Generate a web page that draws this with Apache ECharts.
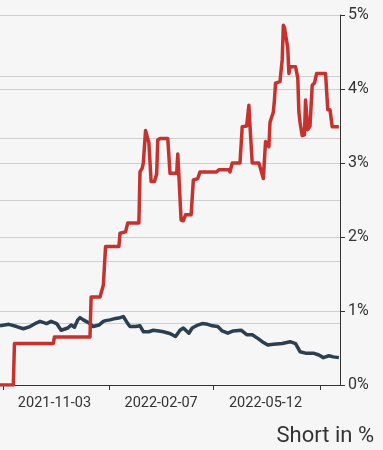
<!DOCTYPE html>
<html>
<head>
<meta charset="utf-8">
<script src="https://cdn.jsdelivr.net/npm/echarts@6/dist/echarts.min.js"></script>
<style>
html,body{margin:0;padding:0;background:#f6f6f6;}
#c{width:383px;height:450px;}
</style>
</head>
<body>
<div id="c"></div>
<script>
// ---- data ----
var redDates = ['2021-09-15','2021-09-27','2021-09-28','2021-11-02','2021-11-03','2021-12-05','2021-12-06','2021-12-14','2021-12-17','2021-12-19','2021-12-31','2022-01-01','2022-01-06','2022-01-08','2022-01-18','2022-01-19','2022-01-21','2022-01-22','2022-01-24','2022-01-27','2022-01-29','2022-02-01','2022-02-03','2022-02-04','2022-02-06','2022-02-13','2022-02-15','2022-02-21','2022-02-22','2022-02-25','2022-02-27','2022-03-01','2022-03-06','2022-03-08','2022-03-12','2022-03-14','2022-03-29','2022-03-31','2022-04-09','2022-04-10','2022-04-12','2022-04-19','2022-04-21','2022-04-25','2022-04-27','2022-04-28','2022-04-30','2022-05-06','2022-05-07','2022-05-10','2022-05-12','2022-05-15','2022-05-16','2022-05-19','2022-05-20','2022-05-21','2022-05-25','2022-05-27','2022-05-28','2022-05-29','2022-06-01','2022-06-02','2022-06-03','2022-06-08','2022-06-10','2022-06-11','2022-06-12','2022-06-14','2022-06-16','2022-06-17','2022-06-19','2022-06-21','2022-06-23','2022-06-25','2022-06-27','2022-07-05','2022-07-07','2022-07-09','2022-07-11','2022-07-17'];
var redValues = [0,0,0.56,0.56,0.65,0.65,1.19,1.19,1.35,1.87,1.87,2.05,2.07,2.19,2.19,2.88,2.93,3.00,3.44,3.27,2.75,2.75,2.85,3.31,3.33,3.33,2.86,2.86,3.12,2.23,2.22,2.30,2.30,2.77,2.79,2.88,2.88,2.91,2.91,2.88,3.00,3.00,3.49,3.50,3.78,3.50,3.00,3.00,2.95,2.79,3.29,3.22,3.55,3.69,3.85,4.08,4.10,4.40,4.86,4.83,4.55,4.21,4.30,4.30,4.15,3.69,3.55,3.37,3.38,3.85,3.45,3.50,4.05,4.08,4.21,4.21,3.72,3.72,3.49,3.49];

var darkDates = ['2021-09-15','2021-09-23','2021-09-30','2021-10-06','2021-10-12','2021-10-18','2021-10-21','2021-10-27','2021-10-31','2021-11-05','2021-11-09','2021-11-15','2021-11-18','2021-11-21','2021-11-24','2021-11-26','2021-11-29','2021-12-04','2021-12-08','2021-12-13','2021-12-17','2021-12-19','2021-12-23','2021-12-28','2022-01-01','2022-01-04','2022-01-08','2022-01-10','2022-01-15','2022-01-19','2022-01-22','2022-01-27','2022-01-31','2022-02-05','2022-02-09','2022-02-14','2022-02-17','2022-02-20','2022-02-24','2022-02-27','2022-03-04','2022-03-07','2022-03-12','2022-03-16','2022-03-21','2022-03-25','2022-03-30','2022-04-03','2022-04-08','2022-04-13','2022-04-20','2022-04-25','2022-04-30','2022-05-05','2022-05-09','2022-05-14','2022-05-19','2022-05-27','2022-06-03','2022-06-08','2022-06-12','2022-06-17','2022-06-24','2022-06-29','2022-07-03','2022-07-08','2022-07-12','2022-07-17'];
var darkValues = [0.80,0.82,0.79,0.76,0.79,0.84,0.86,0.83,0.86,0.83,0.74,0.77,0.81,0.78,0.88,0.91,0.88,0.84,0.79,0.81,0.86,0.87,0.88,0.90,0.91,0.925,0.83,0.79,0.79,0.80,0.72,0.72,0.74,0.73,0.72,0.70,0.68,0.655,0.74,0.77,0.70,0.77,0.81,0.83,0.82,0.80,0.79,0.73,0.70,0.73,0.74,0.68,0.68,0.63,0.585,0.54,0.55,0.56,0.585,0.56,0.45,0.43,0.43,0.405,0.37,0.395,0.38,0.37];

var xTickDates = ['2021-09-18','2021-12-22','2022-03-26','2022-06-30'];
var xLabelDates = ['2021-11-03','2022-02-07','2022-05-12'];
var axisStart = '2021-09-15';
var axisEnd = '2022-07-18';
var yTicks = [0,1,2,3,4,5];
var unitLabel = 'Short in %';

function ts(s){var p=s.split('-');return new Date(+p[0],+p[1]-1,+p[2]).getTime();}
function pad(n){return (n<10?'0':'')+n;}
function fmt(v){var d=new Date(v);return d.getFullYear()+'-'+pad(d.getMonth()+1)+'-'+pad(d.getDate());}
function pairs(ds,vs){return ds.map(function(d,i){return [ts(d),vs[i]];});}

var FONT = 'Roboto';
var chart = echarts.init(document.getElementById('c'));
chart.setOption({
  backgroundColor:'#f6f6f6',
  animation:false,
  title:{
    text:unitLabel, right:4, top:420,
    textStyle:{fontFamily:FONT,fontSize:22,fontWeight:'normal',color:'#333'}
  },
  grid:{left:0,right:43,top:15,bottom:65,containLabel:false},
  xAxis:{
    type:'value', min:ts(axisStart), max:ts(axisEnd), scale:true,
    axisLine:{show:true,lineStyle:{color:'#333',width:1}},
    axisTick:{show:true,length:5,customValues:xTickDates.map(ts),lineStyle:{color:'#333'}},
    axisLabel:{customValues:xLabelDates.map(ts),formatter:function(v){return fmt(v);},
      fontFamily:FONT,fontSize:14.5,color:'#333',margin:11,hideOverlap:false},
    splitLine:{show:false}
  },
  yAxis:[
    {type:'value',position:'right',min:yTicks[0],max:yTicks[yTicks.length-1],interval:1,
     axisLine:{show:true,lineStyle:{color:'#333',width:1}},
     axisTick:{show:true,length:5,lineStyle:{color:'#333'}},
     axisLabel:{formatter:'{value}%',fontFamily:FONT,fontSize:16,color:'#333',margin:8},
     splitLine:{show:true,lineStyle:{color:'#cfcfcf',width:1}}},
    {type:'value',position:'left',min:0,max:6,interval:1,
     axisLine:{show:false},axisTick:{show:false},axisLabel:{show:false},
     splitLine:{show:true,lineStyle:{color:'#cfcfcf',width:1}}}
  ],
  series:[
    {type:'line',name:'dark',yAxisIndex:0,data:pairs(darkDates,darkValues),showSymbol:false,
     lineStyle:{color:'#2b3f50',width:3.5,join:'round'},z:3},
    {type:'line',name:'red',yAxisIndex:0,data:pairs(redDates,redValues),showSymbol:false,
     lineStyle:{color:'#c7322f',width:3.5,join:'round'},z:4}
  ]
});
</script>
</body>
</html>
